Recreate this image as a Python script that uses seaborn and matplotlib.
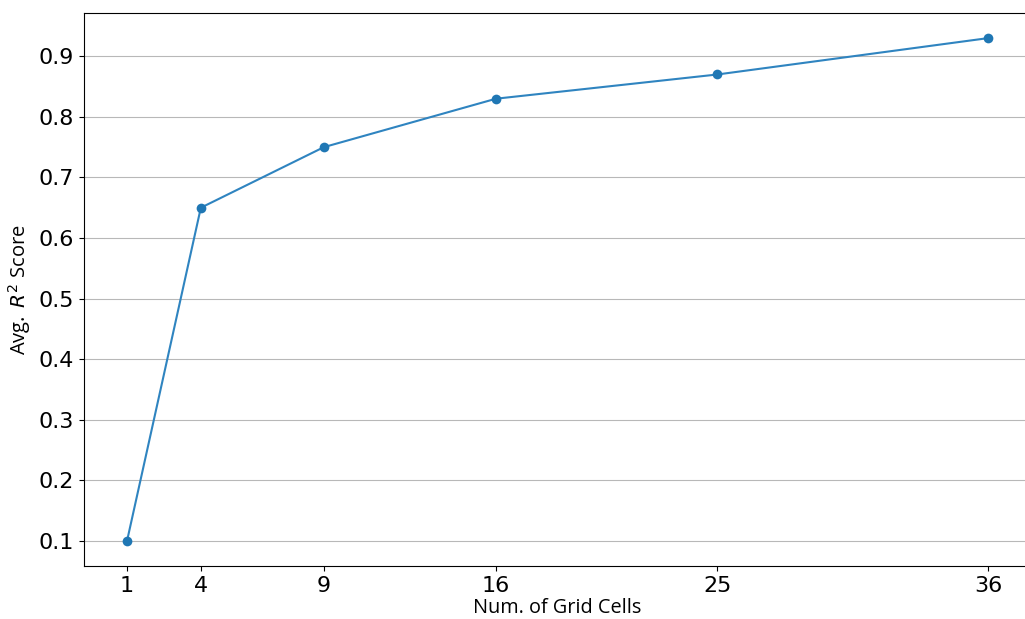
import matplotlib
matplotlib.use("Agg")
import matplotlib.pyplot as plt
import seaborn as sns
import pandas as pd

# Données
grid_cells = [1, 4, 9, 16, 25, 36]
r2_scores = [0.10, 0.65, 0.75, 0.83, 0.87, 0.93]

df = pd.DataFrame({"cells": grid_cells, "r2": r2_scores})

fig = plt.figure(figsize=(10.25, 6.19), dpi=100)
# L'axe dépasse légèrement à droite (coupé comme sur l'original)
ax = fig.add_axes([84 / 1025, 1 - 566 / 619, (1031 - 84) / 1025, (566 - 13) / 619])

sns.lineplot(data=df, x="cells", y="r2", marker="o", markersize=7,
             markeredgewidth=0, color="#1f77b4", linewidth=1.5, ax=ax)
# ligne un peu plus claire que les marqueurs
ax.lines[0].set_color("#2f84c0")
ax.lines[0].set_markerfacecolor("#1f77b4")

ax.set_xticks(grid_cells)
ax.set_xticklabels([str(c) for c in grid_cells])
ax.set_yticks([0.1, 0.2, 0.3, 0.4, 0.5, 0.6, 0.7, 0.8, 0.9])
ax.tick_params(axis="both", labelsize=16)
ax.grid(axis="y", color="#b8b8b8", linewidth=0.8)
ax.set_axisbelow(True)
ax.set_xlabel("Num. of Grid Cells", fontsize=14.3, family="Open Sans", labelpad=1.5)
ax.set_ylabel("Avg. $\\,R^2$ Score", fontsize=14.5, family="Open Sans")

fig.savefig("out.png", dpi=100)
